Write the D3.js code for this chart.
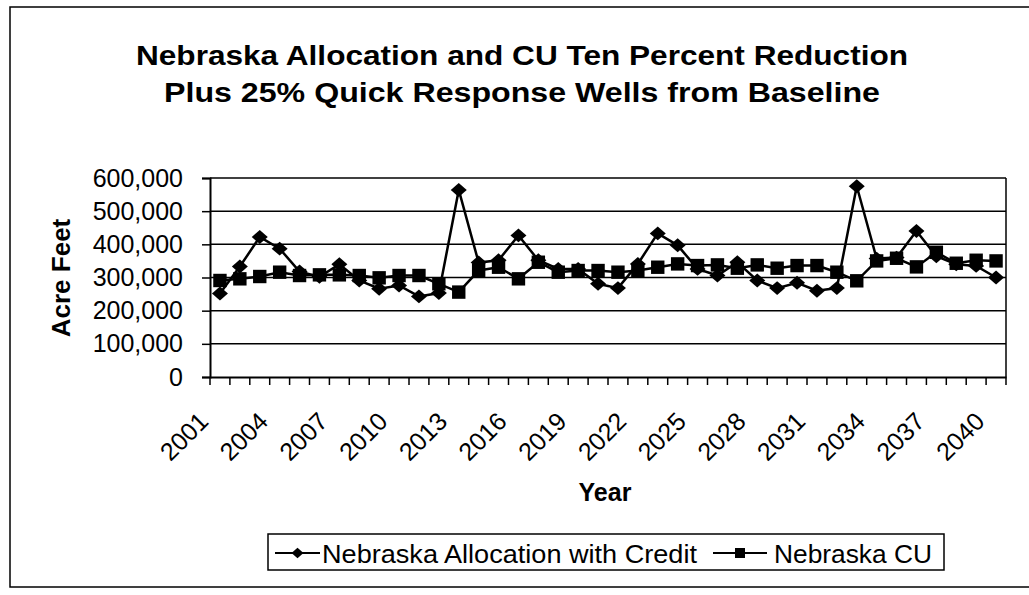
<!DOCTYPE html>
<html><head><meta charset="utf-8">
<script src="https://cdn.jsdelivr.net/npm/d3@7"></script>
<style>
html,body{margin:0;padding:0;background:#fff;}
svg{display:block;font-family:"Liberation Sans",Arial,sans-serif;}
</style></head>
<body><svg id="c" width="1029" height="595"></svg>
<script>
const years = ["2001","2002","2003","2004","2005","2006","2007","2008","2009","2010",
  "2011","2012","2013","2014","2015","2016","2017","2018","2019","2020",
  "2021","2022","2023","2024","2025","2026","2027","2028","2029","2030",
  "2031","2032","2033","2034","2035","2036","2037","2038","2039","2040"];
const allocation = [252000,333000,422000,387000,318000,302000,340000,291000,266000,276000,
  243000,253000,564000,345000,352000,427000,352000,326000,326000,281000,
  268000,341000,433000,397000,326000,306000,346000,291000,268000,284000,
  260000,268000,575000,357000,360000,440000,364000,340000,335000,300000];
const cu = [291000,296000,303000,316000,306000,308000,308000,306000,299000,306000,
  306000,281000,256000,321000,331000,296000,346000,316000,321000,321000,
  316000,321000,331000,341000,336000,338000,328000,338000,328000,336000,
  336000,316000,290000,350000,358000,332000,376000,343000,352000,350000];
const yTicks = [0,100000,200000,300000,400000,500000,600000];
const labelYears = ["2001","2004","2007","2010","2013","2016","2019","2022","2025","2028","2031","2034","2037","2040"];
const titleLines = ["Nebraska Allocation and CU Ten Percent Reduction","Plus 25% Quick Response Wells  from Baseline"];
const seriesNames = ["Nebraska Allocation with Credit","Nebraska CU"];

const svg = d3.select("#c");
const L = 210, R = 1006, T = 178, B = 377;

// outer chart border
svg.append("rect").attr("x",10).attr("y",7).attr("width",1040).attr("height",580)
  .attr("fill","#fff").attr("stroke","#000").attr("stroke-width",1.5);

// title
const titleW = [772, 716];
svg.selectAll("text.title").data(titleLines).join("text")
  .attr("class","title")
  .attr("x",522).attr("y",(d,i)=>65+i*37)
  .attr("text-anchor","middle")
  .attr("font-size",28).attr("font-weight","bold")
  .attr("textLength",(d,i)=>titleW[i]).attr("lengthAdjust","spacingAndGlyphs")
  .text(d=>d);

const x = d3.scaleBand().domain(years).range([L,R]).padding(0);
const y = d3.scaleLinear().domain([0,600000]).range([B,T]);

// gridlines
svg.append("g").selectAll("line").data(yTicks.slice(1)).join("line")
  .attr("x1",L).attr("x2",R).attr("y1",d=>y(d)).attr("y2",d=>y(d))
  .attr("stroke","#000").attr("stroke-width",1.5);
svg.append("line").attr("x1",R).attr("x2",R).attr("y1",T).attr("y2",B).attr("stroke","#000").attr("stroke-width",1.5);

// y axis
const yAxis = d3.axisLeft(y).tickValues(yTicks).tickSize(8).tickPadding(19)
  .tickFormat(d3.format(","));
const gy = svg.append("g").attr("transform",`translate(${L},0)`).call(yAxis);
gy.select(".domain").attr("stroke","#000").attr("stroke-width",2);
gy.selectAll(".tick line").attr("stroke","#000").attr("stroke-width",1.5);
gy.selectAll(".tick text").attr("font-size",25).attr("fill","#000")
  .attr("font-family","'Liberation Sans',Arial,sans-serif");

// x axis: ticks between categories
const xAxis = d3.axisBottom(x).tickSize(0).tickFormat("");
const gx = svg.append("g").attr("transform",`translate(0,${B})`).call(xAxis);
gx.select(".domain").attr("stroke","#000").attr("stroke-width",2);
const bounds = years.map(d=>x(d)).concat([R]);
svg.append("g").selectAll("line").data(bounds).join("line")
  .attr("x1",d=>d).attr("x2",d=>d).attr("y1",B).attr("y2",B+8)
  .attr("stroke","#000").attr("stroke-width",1.5);
svg.append("g").selectAll("text").data(labelYears).join("text")
  .attr("transform",d=>`translate(${x(d)+x.bandwidth()/2-10},${423}) rotate(-45)`)
  .attr("text-anchor","end").attr("font-size",25).text(d=>d);

// axis titles
svg.append("text").attr("transform","translate(70,278) rotate(-90)")
  .attr("text-anchor","middle").attr("font-size",26).attr("font-weight","bold").text("Acre Feet");
svg.append("text").attr("x",605).attr("y",501).attr("text-anchor","middle")
  .attr("font-size",25).attr("font-weight","bold").text("Year");

// marker shapes
const diamondType = {draw(ctx, size){ const w = Math.sqrt(size)/2, h = w*0.87;
  ctx.moveTo(0,-h); ctx.lineTo(w,0); ctx.lineTo(0,h); ctx.lineTo(-w,0); ctx.closePath(); }};
const diamond = d3.symbol().type(diamondType).size(256);
const square = d3.symbol().type(d3.symbolSquare).size(180);

// series
const cx = d => x(d)+x.bandwidth()/2;
const line = d3.line().x((d,i)=>cx(years[i])).y(d=>y(d));
svg.append("path").datum(allocation).attr("d",line).attr("fill","none").attr("stroke","#000").attr("stroke-width",2.5);
svg.append("path").datum(cu).attr("d",line).attr("fill","none").attr("stroke","#000").attr("stroke-width",2.5);
svg.append("g").selectAll("path").data(allocation).join("path")
  .attr("d",diamond).attr("transform",(d,i)=>`translate(${cx(years[i])},${y(d)})`).attr("fill","#000");
svg.append("g").selectAll("path").data(cu).join("path")
  .attr("d",square).attr("transform",(d,i)=>`translate(${cx(years[i])},${y(d)})`).attr("fill","#000");

// legend
const lg = svg.append("g");
lg.append("rect").attr("x",268).attr("y",534).attr("width",676).attr("height",36)
  .attr("fill","#fff").attr("stroke","#000").attr("stroke-width",1.5);
const legDiamond = d3.symbol().type(diamondType).size(144);
const legSquare = d3.symbol().type(d3.symbolSquare).size(100);
const items = [{x0:275,x1:320,tx:322,tw:375,sym:legDiamond},{x0:713,x1:767,tx:774,tw:158,sym:legSquare}];
items.forEach((it,i)=>{
  lg.append("line").attr("x1",it.x0).attr("x2",it.x1).attr("y1",553).attr("y2",553).attr("stroke","#000").attr("stroke-width",2);
  lg.append("path").attr("d",it.sym).attr("transform",`translate(${(it.x0+it.x1)/2},553)`).attr("fill","#000");
  lg.append("text").attr("x",it.tx).attr("y",563).attr("font-size",26.5)
    .attr("textLength",it.tw).attr("lengthAdjust","spacingAndGlyphs").text(seriesNames[i]);
});
</script></body></html>
